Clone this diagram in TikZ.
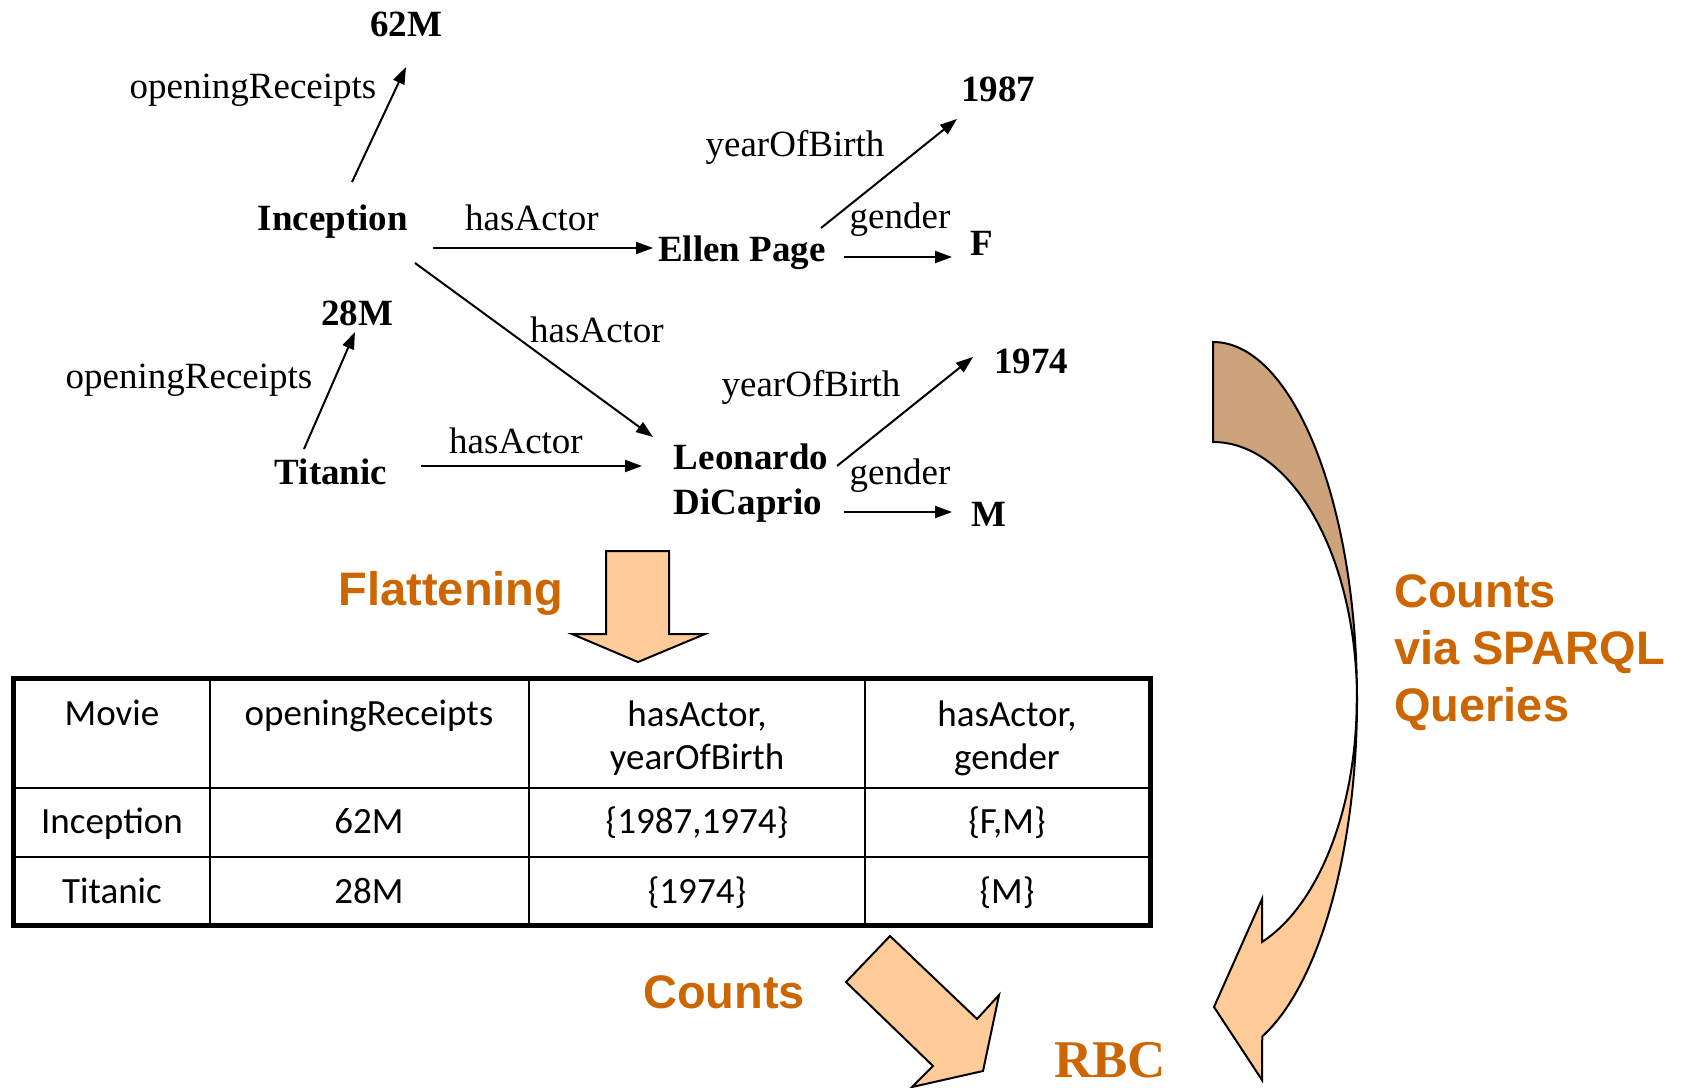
\documentclass[tikz,border=0pt]{standalone}
\usepackage{fontspec}
\setmainfont{Liberation Serif}
\newfontfamily\arialfont{Liberation Sans}
\newfontfamily\calibrifont{Carlito}
\usetikzlibrary{arrows.meta}
\definecolor{rbcorange}{HTML}{CC6600}
\definecolor{shaftfill}{HTML}{FFCC99}
\definecolor{shaftback}{HTML}{CCA37A}

\begin{document}
\begin{tikzpicture}[x=1pt, y=1pt,
	ent/.style = {font=\fontsize{37}{45}\selectfont\bfseries, inner sep=0pt, anchor=base},
	rel/.style = {font=\fontsize{37}{45}\selectfont, inner sep=0pt, anchor=base},
	edge/.style = {line width=2pt, -{Triangle[length=17pt, width=12pt]}},
	cell/.style = {font=\calibrifont\fontsize{37}{43}\selectfont, inner sep=0pt, anchor=base, align=center},
	hint/.style = {font=\arialfont\bfseries\fontsize{47}{57}\selectfont, text=rbcorange, inner sep=0pt},
	fatarrow/.style = {fill=shaftfill, draw=black, line width=2pt, line join=miter}]
	\useasboundingbox (0,0) rectangle (1683,-1087);

	\node[ent] (m62) at (406,-36) {62M};
	\node[rel] (or1) at (253,-98) {openingReceipts};
	\node[ent] (inc) at (333,-230) {Inception};
	\node[rel] (ha1) at (532,-230) {hasActor};
	\node[ent] (ellen) at (742,-261) {Ellen Page};
	\node[ent] (y87) at (998,-101) {1987};
	\node[rel] (yb1) at (795,-156) {yearOfBirth};
	\node[rel] (gd1) at (900,-228) {gender};
	\node[ent] (fem) at (982,-255) {F};
	\node[rel] (ha2) at (597,-342) {hasActor};
	\node[ent] (m28) at (357,-325) {28M};
	\node[rel] (or2) at (189,-388) {openingReceipts};
	\node[ent] (tit) at (331,-484) {Titanic};
	\node[rel] (ha3) at (516,-453) {hasActor};
	\node[ent, anchor=center, align=left] (leo) at (751,-483) {Leonardo\\DiCaprio};
	\node[ent] (y74) at (1031,-373) {1974};
	\node[rel] (yb2) at (811,-396) {yearOfBirth};
	\node[rel] (gd2) at (900,-484) {gender};
	\node[ent] (mal) at (989,-526) {M};

	\draw[edge] ([xshift=19pt,yshift=48pt]inc.base) -- ([yshift=-31pt]m62.base);
	\draw[edge] ([xshift=100pt,yshift=-18pt]inc.base) -- ([xshift=-89pt,yshift=13pt]ellen.base);
	\draw[edge] ([xshift=82pt,yshift=-33pt]inc.base) -- ([xshift=-98pt,yshift=46pt]leo.center);
	\draw[edge] ([xshift=-27pt,yshift=35pt]tit.base) -- ([xshift=-2pt,yshift=-7pt]m28.base);
	\draw[edge] ([xshift=90pt,yshift=18pt]tit.base) -- ([xshift=-109pt,yshift=17pt]leo.center);
	\draw[edge] ([xshift=79pt,yshift=33pt]ellen.base) -- ([xshift=-41pt,yshift=-18pt]y87.base);
	\draw[edge] ([xshift=102pt,yshift=4pt]ellen.base) -- ([xshift=-30pt,yshift=-2pt]fem.base);
	\draw[edge] ([xshift=86pt,yshift=17pt]leo.center) -- ([xshift=-58pt,yshift=16pt]y74.base);
	\draw[edge] ([xshift=93pt,yshift=-29pt]leo.center) -- ([xshift=-37pt,yshift=14pt]mal.base);

	\draw[fatarrow] (606,-551) -- (669,-551) -- (669,-634) -- (705,-634) -- (638,-662) -- (572,-634) -- (606,-634) -- cycle;
	\node[hint] (flat) at (451,-593) {Flattening};

	\draw[line width=1.5pt] (210,-678) -- (210,-925) (529,-678) -- (529,-925) (865,-678) -- (865,-925);
	\draw[line width=1.5pt] (13,-788) -- (1150,-788) (13,-857) -- (1150,-857);
	\draw[line width=5pt] (13,-678) rectangle (1150,-925);
	\node[cell] (hmov) at (112,-725) {Movie};
	\node[cell] (hrec) at (369,-725) {openingReceipts};
	\node[cell, anchor=center] (hyob) at (697,-738) {hasActor,\\yearOfBirth};
	\node[cell, anchor=center] (hgen) at (1007,-738) {hasActor,\\gender};
	\node[cell] (cinc) at (112,-833) {Inception};
	\node[cell] (rinc) at (369,-833) {62M};
	\node[cell] (yinc) at (697,-833) {\{1987,1974\}};
	\node[cell] (ginc) at (1007,-833) {\{F,M\}};
	\node[cell] (ctit) at (112,-903) {Titanic};
	\node[cell] (rtit) at (369,-903) {28M};
	\node[cell] (ytit) at (697,-903) {\{1974\}};
	\node[cell] (gtit) at (1007,-903) {\{M\}};

	\draw[fatarrow] (890,-936) -- (977,-1019) -- (999,-995) -- (983,-1071) -- (912,-1087) -- (933,-1066) -- (846,-982) -- cycle;
	\node[hint, anchor=base] (cnt) at (724,-1008) {Counts};
	\node[font=\bfseries\fontsize{53}{60}\selectfont, text=rbcorange, inner sep=0pt, anchor=base] (rbc) at (1110,-1077) {RBC};

	\draw[fatarrow, fill=shaftback] (1213,-342) arc[start angle=90, end angle=0, x radius=144, y radius=358]
		arc[start angle=0, end angle=90, x radius=144, y radius=258] -- cycle;
	\draw[fatarrow] (1357,-700) arc[start angle=0, end angle=-70, x radius=144, y radius=358]
		-- (1262,-1080) -- (1214,-1007) -- (1262,-899) -- (1262,-942)
		arc[start angle=-70, end angle=0, x radius=144, y radius=258] -- cycle;
	\node[hint, anchor=north west, align=left] (sparql) at (1394,-574) {Counts\\via SPARQL\\Queries};
\end{tikzpicture}
\end{document}
